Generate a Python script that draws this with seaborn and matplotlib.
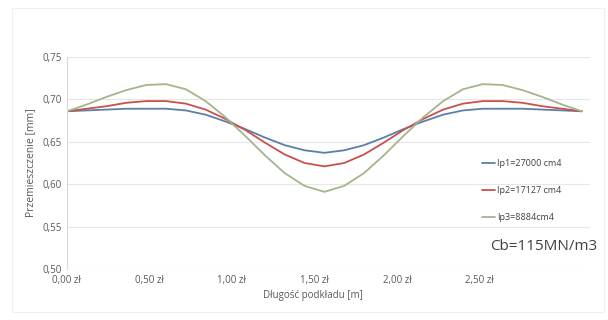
import pandas as pd
import numpy as np
import seaborn as sns
import matplotlib.pyplot as plt
from matplotlib.patches import Rectangle

# dane
x_m = [0.00, 0.12, 0.24, 0.36, 0.48, 0.60, 0.72, 0.84, 0.96, 1.08, 1.20, 1.32, 1.44, 1.56,
       1.68, 1.80, 1.92, 2.04, 2.16, 2.28, 2.40, 2.52, 2.64, 2.76, 2.88, 3.00, 3.12]
ip1 = [0.686, 0.687, 0.688, 0.689, 0.689, 0.689, 0.687, 0.682, 0.674, 0.665,
       0.655, 0.646, 0.640, 0.637, 0.640, 0.646, 0.655, 0.665, 0.674, 0.682,
       0.687, 0.689, 0.689, 0.689, 0.688, 0.687, 0.686]
ip2 = [0.686, 0.689, 0.692, 0.696, 0.698, 0.698, 0.695, 0.688, 0.677, 0.664,
       0.649, 0.635, 0.625, 0.621, 0.625, 0.635, 0.649, 0.664, 0.677, 0.688,
       0.695, 0.698, 0.698, 0.696, 0.692, 0.689, 0.686]
ip3 = [0.686, 0.694, 0.703, 0.711, 0.717, 0.718, 0.712, 0.698, 0.679, 0.657,
       0.634, 0.613, 0.598, 0.591, 0.598, 0.613, 0.634, 0.657, 0.679, 0.698,
       0.712, 0.718, 0.717, 0.711, 0.703, 0.694, 0.686]
labels = ['Ip1=27000 cm4', 'Ip2=17127 cm4', 'Ip3=8884cm4']
colors = ['#5b7fa8', '#c8504d', '#a3b58a']
y_ticks = [0.50, 0.55, 0.60, 0.65, 0.70, 0.75]
x_ticks = [0.0, 0.5, 1.0, 1.5, 2.0, 2.5]

df = pd.DataFrame({'x': x_m * 3,
                   'y': ip1 + ip2 + ip3,
                   'seria': [labels[0]] * len(x_m) + [labels[1]] * len(x_m) + [labels[2]] * len(x_m)})

sns.set_style('white')
plt.rcParams['font.family'] = ['Open Sans', 'DejaVu Sans']

fig = plt.figure(figsize=(6.08, 3.2), dpi=100)
ax = fig.add_axes([67 / 608, 1 - 269 / 320, (590 - 67) / 608, (269 - 57) / 320])

sns.lineplot(data=df, x='x', y='y', hue='seria', palette=dict(zip(labels, colors)),
             linewidth=1.3, ax=ax)

ax.set_xlim(0, 3.17)
ax.set_ylim(0.5, 0.75)
ax.set_yticks(y_ticks)
ax.set_yticklabels([f'{v:.2f}'.replace('.', ',') for v in y_ticks])
ax.set_xticks(x_ticks)
ax.set_xticklabels([f'{v:.2f} zł'.replace('.', ',') for v in x_ticks])
ax.tick_params(labelsize=7, colors='#595959', length=0, pad=4)
ax.grid(axis='y', color='#e6e6e6', linewidth=0.8)
for s in ['top', 'right', 'bottom']:
    ax.spines[s].set_visible(False)
ax.spines['left'].set_color('#d9d9d9')
ax.set_xlabel('Długość podkładu [m]', fontsize=7, color='#595959')
ax.xaxis.set_label_coords((313 - 67) / (590 - 67), -0.1)
ax.set_ylabel('Przemieszczenie [mm]', fontsize=7.5, color='#595959', labelpad=4)

leg = ax.legend(loc='upper left', bbox_to_anchor=(474 / 608, 1 - 151 / 320),
                bbox_transform=fig.transFigure, frameon=False, fontsize=6.5,
                handlelength=1.4, handletextpad=0.3, labelspacing=2.0)
for t in leg.get_texts():
    t.set_color('#404040')

fig.text(490 / 608, 1 - 247 / 320, 'Cb=115MN/m3', fontsize=11, color='#404040', va='center')

fig.patches.append(Rectangle((12 / 608, 8 / 320), 592 / 608, 304 / 320, transform=fig.transFigure,
                             fill=False, edgecolor='#f0f0f0', linewidth=0.8))

fig.savefig('out.png', dpi=100)
